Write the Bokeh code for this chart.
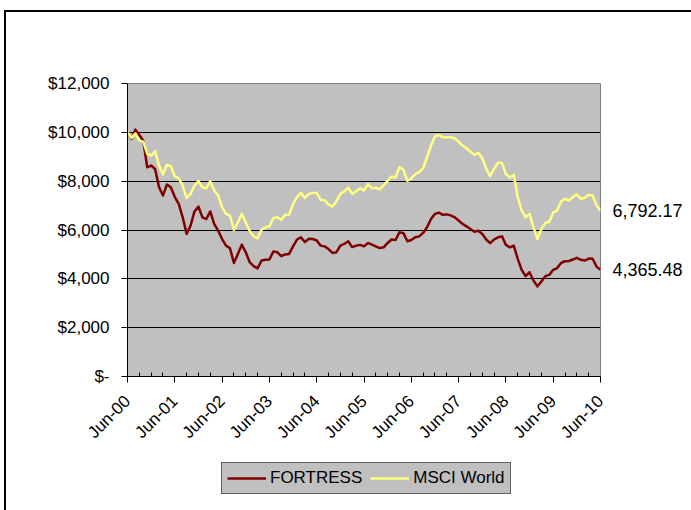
import numpy as np
from bokeh.plotting import figure
from bokeh.layouts import column
from bokeh.models import (Range1d, FixedTicker, Legend, LegendItem, LinearAxis,
                          NumeralTickFormatter)
from bokeh.embed import file_html
from bokeh.resources import INLINE

# ---- data ----
tick_labels = ["Jun-00", "Jun-01", "Jun-02", "Jun-03", "Jun-04", "Jun-05",
               "Jun-06", "Jun-07", "Jun-08", "Jun-09", "Jun-10"]
series_names = ["FORTRESS", "MSCI World"]
series_colors = ["#800000", "#FFFF80"]

fortress = [10000, 9730, 10110, 9890, 9660, 8570, 8640, 8500, 7750, 7410,
            7860, 7750, 7350, 7070, 6520, 5840, 6180, 6760, 6960, 6520,
            6450, 6760, 6240, 5970, 5630, 5360, 5250, 4650, 5020, 5400,
            5090, 4680, 4520, 4430, 4750, 4780, 4790, 5120, 5090, 4930,
            5000, 5020, 5330, 5610, 5700, 5510, 5640, 5630, 5570, 5360,
            5330, 5220, 5060, 5090, 5360, 5430, 5540, 5300, 5360, 5390,
            5330, 5470, 5400, 5330, 5260, 5290, 5470, 5610, 5590, 5910,
            5870, 5540, 5590, 5700, 5740, 5880, 6110, 6450, 6660, 6710,
            6620, 6640, 6600, 6520, 6390, 6250, 6150, 6040, 5930, 5970,
            5840, 5610, 5460, 5610, 5700, 5740, 5390, 5290, 5360, 4820,
            4370, 4110, 4270, 3930, 3690, 3890, 4110, 4160, 4370, 4440,
            4650, 4720, 4730, 4790, 4860, 4780, 4750, 4830, 4820, 4500,
            4365.48]

msci = [10000, 9770, 9950, 9660, 9620, 9120, 9050, 9220, 8640, 8270,
        8670, 8610, 8200, 8120, 7820, 7310, 7480, 7820, 8000, 7750,
        7710, 8000, 7620, 7410, 6930, 6660, 6590, 6000, 6310, 6660,
        6310, 5970, 5730, 5660, 6010, 6110, 6150, 6480, 6520, 6410,
        6620, 6620, 7070, 7350, 7520, 7310, 7480, 7520, 7520, 7240,
        7210, 7050, 6960, 7170, 7480, 7580, 7730, 7480, 7590, 7710,
        7620, 7880, 7710, 7730, 7660, 7840, 8010, 8190, 8150, 8570,
        8470, 8010, 8110, 8290, 8370, 8530, 8980, 9460, 9840, 9890,
        9800, 9800, 9800, 9760, 9620, 9460, 9350, 9210, 9080, 9160,
        8940, 8510, 8200, 8510, 8750, 8750, 8290, 8150, 8260, 7350,
        6800, 6520, 6660, 6110, 5640, 6040, 6290, 6340, 6710, 6800,
        7170, 7280, 7210, 7350, 7460, 7280, 7320, 7440, 7410, 7000,
        6792.17]

y_ticks = [0, 2000, 4000, 6000, 8000, 10000, 12000]
y_tick_labels = ["$-", "$2,000", "$4,000", "$6,000", "$8,000", "$10,000", "$12,000"]

# ---- main chart ----
FONT = "Liberation Sans"
months = np.arange(len(fortress))
last = len(fortress) - 1

p = figure(width=685, height=444, output_backend="svg", toolbar_location=None,
           x_range=Range1d(0, last), y_range=Range1d(0, 12000),
           min_border_left=121, min_border_right=91, min_border_top=71,
           min_border_bottom=80,
           background_fill_color="#C0C0C0", border_fill_color="white",
           outline_line_color="#808080", outline_line_width=1)

r1 = p.line(months, fortress, line_color=series_colors[0], line_width=2.5, line_join="round")
r2 = p.line(months, msci, line_color=series_colors[1], line_width=2.5, line_join="round")

# y axis
p.yaxis.ticker = FixedTicker(ticks=y_ticks)
p.yaxis.major_label_overrides = dict(zip(y_ticks, y_tick_labels))
p.yaxis.major_label_text_font = FONT
p.yaxis.major_label_text_font_size = "17px"
p.yaxis.major_label_text_color = "black"
p.yaxis.major_tick_out = 6
p.yaxis.major_tick_in = 0
p.yaxis.minor_tick_line_color = None
p.yaxis.axis_line_color = "black"
p.yaxis.major_tick_line_color = "black"
p.yaxis.major_label_standoff = 12

# right-hand value labels for the last observation of each series
end_axis = LinearAxis(ticker=FixedTicker(ticks=[msci[-1], fortress[-1]]),
                      formatter=NumeralTickFormatter(format="0,0.00"),
                      axis_line_color=None, major_tick_line_color=None,
                      minor_tick_line_color=None, major_tick_out=0,
                      major_label_standoff=12,
                      major_label_text_font=FONT,
                      major_label_text_font_size="18px",
                      major_label_text_color="black")
p.add_layout(end_axis, "right")

# x axis
major_x = list(range(0, len(fortress), 12))
minor_x = [m for m in range(0, len(fortress), 3) if m % 12 != 0]
p.xaxis.ticker = FixedTicker(ticks=major_x, minor_ticks=minor_x)
p.xaxis.major_label_overrides = dict(zip(major_x, tick_labels))
p.xaxis.major_label_orientation = np.pi / 4
p.xaxis.major_label_text_font = FONT
p.xaxis.major_label_text_font_size = "17px"
p.xaxis.major_label_text_color = "black"
p.xaxis.major_tick_out = 6
p.xaxis.major_tick_in = 0
p.xaxis.minor_tick_in = 4
p.xaxis.minor_tick_out = 0
p.xaxis.axis_line_color = "black"
p.xaxis.major_tick_line_color = "black"
p.xaxis.minor_tick_line_color = "black"
p.xaxis.major_label_standoff = 16

# grid
p.xgrid.visible = False
p.ygrid.ticker = FixedTicker(ticks=y_ticks[1:-1])
p.ygrid.grid_line_color = "black"
p.ygrid.grid_line_width = 1

# ---- legend strip below the chart (frame aligned with the chart's frame) ----
pl = figure(width=685, height=54, output_backend="svg", toolbar_location=None,
            x_range=Range1d(0, 1), y_range=Range1d(0, 1),
            x_axis_location=None, y_axis_location=None,
            min_border=0, outline_line_color=None,
            background_fill_color="white", border_fill_color="white")
pl.xgrid.visible = False
pl.ygrid.visible = False
# legend keys only: same styles as the chart lines, nothing plotted
k1 = pl.line([np.nan], [np.nan], line_color=series_colors[0], line_width=2.5)
k2 = pl.line([np.nan], [np.nan], line_color=series_colors[1], line_width=2.5)
legend = Legend(items=[LegendItem(label=series_names[0], renderers=[k1]),
                       LegendItem(label=series_names[1], renderers=[k2])],
                orientation="horizontal", location=(94, 16),
                background_fill_color="#C0C0C0", background_fill_alpha=1,
                border_line_color="black", border_line_width=1,
                label_text_font=FONT, label_text_font_size="17px",
                label_text_color="black",
                glyph_width=39, glyph_height=18, label_standoff=4,
                spacing=8, padding=5, margin=0)
pl.add_layout(legend, "center")

page = column(p, pl, spacing=0,
              styles={"margin-left": "4px", "margin-top": "10px",
                      "border-left": "2px solid black",
                      "border-top": "2px solid black"})

open("out.html", "w").write(file_html(page, INLINE))
